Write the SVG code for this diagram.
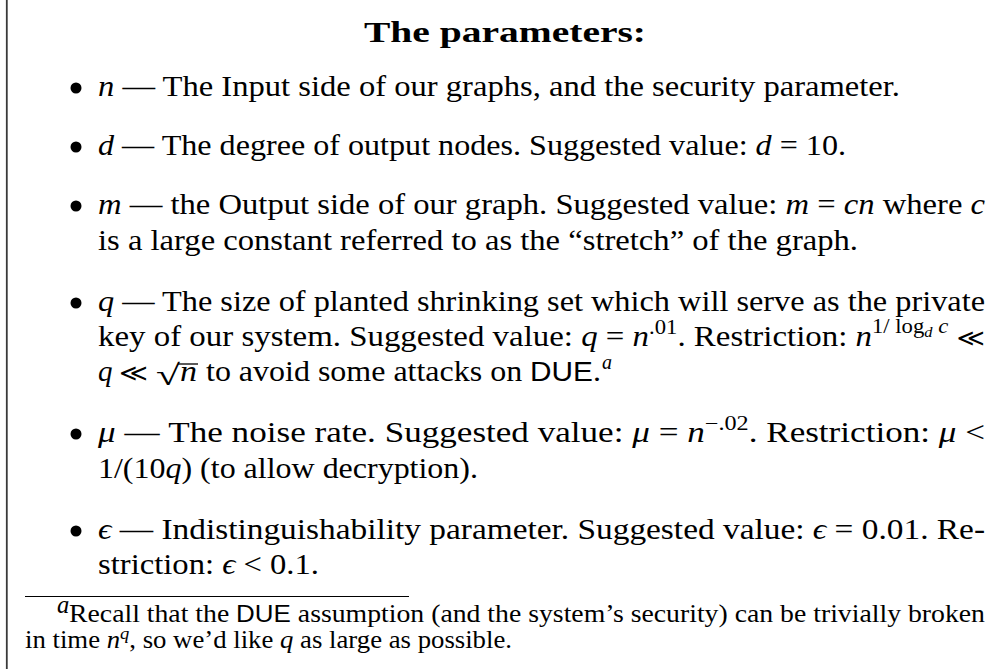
<svg xmlns="http://www.w3.org/2000/svg" width="995" height="669" viewBox="0 0 995 669">
<style>
.t{font-family:"Liberation Serif","Times New Roman",serif;font-size:29px;fill:#000}
.f{font-family:"Liberation Serif","Times New Roman",serif;font-size:24.6px;fill:#000}
.b{font-weight:bold}
.i{font-style:italic}
.s{font-family:"Liberation Sans",Arial,sans-serif;font-size:27px}
.fs{font-family:"Liberation Sans",Arial,sans-serif;font-size:23px}
.sup{font-size:20px}
.rel{font-family:"DejaVu Serif","DejaVu Sans",serif;font-size:24px}
.bl{fill:#000}
</style>
<rect width="995" height="669" fill="#fff"/>
<line x1="6.8" y1="0" x2="6.8" y2="669" stroke="#3a3a3a" stroke-width="1.8"/>
<g id="title"><text class="t b" x="364" y="42" font-size="34" textLength="282" lengthAdjust="spacingAndGlyphs">The parameters:</text></g>
<g id="item-n">
<circle class="bl" cx="76" cy="88" r="5.5"/>
<text class="t" x="98" y="96" textLength="802" lengthAdjust="spacingAndGlyphs"><tspan class="i">n</tspan> — The Input side of our graphs, and the security parameter.</text>
</g>
<g id="item-d">
<circle class="bl" cx="76" cy="147" r="5.5"/>
<text class="t" x="98" y="155" textLength="748" lengthAdjust="spacingAndGlyphs"><tspan class="i">d</tspan> — The degree of output nodes. Suggested value: <tspan class="i">d</tspan> = 10.</text>
</g>
<g id="item-m">
<circle class="bl" cx="76" cy="206" r="5.5"/>
<text class="t" x="98" y="214" textLength="887" lengthAdjust="spacingAndGlyphs"><tspan class="i">m</tspan> — the Output side of our graph. Suggested value: <tspan class="i">m</tspan> = <tspan class="i">cn</tspan> where <tspan class="i">c</tspan></text>
<text class="t" x="98" y="250" textLength="760" lengthAdjust="spacingAndGlyphs">is a large constant referred to as the “stretch” of the graph.</text>
</g>
<g id="item-q">
<circle class="bl" cx="76" cy="303" r="5.5"/>
<text class="t" x="98" y="311" textLength="887" lengthAdjust="spacingAndGlyphs"><tspan class="i">q</tspan> — The size of planted shrinking set which will serve as the private</text>
<text class="t" x="98" y="346" textLength="887" lengthAdjust="spacingAndGlyphs">key of our system. Suggested value: <tspan class="i">q</tspan> = <tspan class="i">n</tspan><tspan class="sup" dy="-12">.01</tspan><tspan dy="12">. Restriction: </tspan><tspan class="i">n</tspan><tspan class="sup" dy="-13">1/ log</tspan><tspan class="i" font-size="14.5" dy="4">d</tspan><tspan class="sup i" dy="-4"> c</tspan><tspan dy="13"> </tspan><tspan class="rel">≪</tspan></text>
<text class="t i" x="98" y="381">q</text>
<text class="t rel" x="119" y="381" textLength="29" lengthAdjust="spacingAndGlyphs">≪</text>
<text class="t" x="156" y="385" font-size="31" textLength="24" lengthAdjust="spacingAndGlyphs">√</text>
<line x1="178" y1="364" x2="198" y2="364" stroke="#000" stroke-width="1.3"/>
<text class="t i" x="180" y="381" textLength="17" lengthAdjust="spacingAndGlyphs">n</text>
<text class="t" x="206" y="381" textLength="395" lengthAdjust="spacingAndGlyphs">to avoid some attacks on <tspan class="s">DUE</tspan>.</text>
<text class="t i sup" x="602" y="369" fill="#1a1aff">a</text>
</g>
<g id="item-mu">
<circle class="bl" cx="76" cy="434" r="5.5"/>
<text class="t" x="98" y="442" textLength="887" lengthAdjust="spacingAndGlyphs"><tspan class="i">μ</tspan> — The noise rate. Suggested value: <tspan class="i">μ</tspan> = <tspan class="i">n</tspan><tspan class="sup" dy="-12">−.02</tspan><tspan dy="12">. Restriction: </tspan><tspan class="i">μ</tspan> &lt;</text>
<text class="t" x="98" y="478" textLength="380" lengthAdjust="spacingAndGlyphs">1/(10<tspan class="i">q</tspan>) (to allow decryption).</text>
</g>
<g id="item-eps">
<circle class="bl" cx="76" cy="531" r="5.5"/>
<text class="t" x="98" y="539" textLength="887" lengthAdjust="spacingAndGlyphs"><tspan class="i">ϵ</tspan> — Indistinguishability parameter. Suggested value: <tspan class="i">ϵ</tspan> = 0.01. Re-</text>
<text class="t" x="98" y="574" textLength="221" lengthAdjust="spacingAndGlyphs">striction: <tspan class="i">ϵ</tspan> &lt; 0.1.</text>
</g>
<g id="footnote">
<line x1="25" y1="596.5" x2="409" y2="596.5" stroke="#000" stroke-width="1.2"/>
<text class="f i" x="57" y="613" font-size="17">a</text>
<text class="f" x="69" y="622" textLength="916" lengthAdjust="spacingAndGlyphs">Recall that the <tspan class="fs">DUE</tspan> assumption (and the system’s security) can be trivially broken</text>
<text class="f" x="25" y="648" textLength="487" lengthAdjust="spacingAndGlyphs">in time <tspan class="i">n</tspan><tspan class="i" font-size="17" dy="-9">q</tspan><tspan dy="9">, so we’d like </tspan><tspan class="i">q</tspan> as large as possible.</text>
</g>
</svg>
